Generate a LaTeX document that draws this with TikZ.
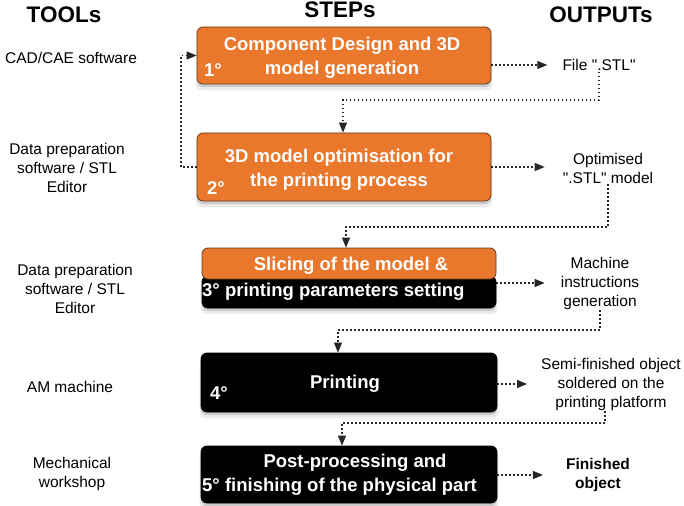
\documentclass[tikz,border=0pt]{standalone}
\usepackage{fontspec}
\setmainfont[Ligatures=TeXOff]{Liberation Sans}
\usetikzlibrary{arrows.meta,shadows}
\definecolor{amorange}{HTML}{E9772C}
\definecolor{amborder}{HTML}{6B3A18}
\begin{document}
\begin{tikzpicture}[x=1pt,y=-1pt,
  stepbox/.style={draw, rounded corners=6pt, line width=0.8pt, inner sep=0pt,
    drop shadow={shadow xshift=0pt, shadow yshift=-6pt, shadow scale=1.01, opacity=0.15},
    drop shadow={shadow xshift=0pt, shadow yshift=-3pt, opacity=0.3}},
  orangebox/.style={stepbox, fill=amorange, draw=amborder},
  blackbox/.style={stepbox, fill=black, draw=black},
  boxtext/.style={text=white, font=\fontsize{18.5}{24}\selectfont\bfseries, align=center, inner sep=0pt},
  numtext/.style={boxtext, anchor=west},
  sidetext/.style={font=\fontsize{15.5}{19}\selectfont, align=center, inner sep=1pt},
  headtext/.style={font=\fontsize{22.5}{26}\selectfont\bfseries, inner sep=0pt},
  flow/.style={line width=1.1pt, dash pattern=on 1.2pt off 2.8pt, black!85,
    -{Triangle[length=10pt,width=8pt]}}
]
\useasboundingbox (0,0) rectangle (684,505);

% headers
\node[headtext] (htools) at (64,15) {TOOLs};
\node[headtext] (hsteps) at (340,10) {STEPs};
\node[headtext] (hout) at (601,15) {OUTPUTs};

% step boxes
\node[orangebox, minimum width=294pt, minimum height=57pt] (box1) at (344,55.5) {};
\node[orangebox, minimum width=294pt, minimum height=68pt] (box2) at (344,167) {};
\node[blackbox, minimum width=294pt, minimum height=32pt] (box3) at (349,292) {};
\node[draw=amborder, fill=amorange, rounded corners=6pt, line width=0.8pt, inner sep=0pt,
  minimum width=294pt, minimum height=31pt] (box3top) at (349,263.5) {};
\node[blackbox, minimum width=296pt, minimum height=59pt] (box4) at (349,382.5) {};
\node[blackbox, minimum width=296pt, minimum height=57pt] (box5) at (349,474.5) {};

% step texts
\node[boxtext] (t1) at (342,57.5) {Component Design and 3D\\model generation};
\node[numtext] (n1) at (204,70) {1°};
\node[boxtext] (t2) at (339,170) {3D model optimisation for\\the printing process};
\node[numtext] (n2) at (207,188) {2°};
\node[boxtext] (t3a) at (351,266) {Slicing of the model \&};
\node[numtext] (t3b) at (202,292) {3° printing parameters setting};
\node[boxtext] (t4) at (345,384) {Printing};
\node[numtext] (n4) at (210,393) {4°};
\node[boxtext] (t5a) at (355,463) {Post-processing and};
\node[numtext] (t5b) at (202,487) {5° finishing of the physical part};

% tools
\node[sidetext] (cad) at (71,58) {CAD/CAE software};
\node[sidetext] (dp1) at (67,168) {Data preparation\\software / STL\\Editor};
\node[sidetext] (dp2) at (75,289) {Data preparation\\software / STL\\Editor};
\node[sidetext] (am) at (70,387) {AM machine};
\node[sidetext] (mech) at (72,474) {Mechanical\\workshop};

% outputs
\node[sidetext] (file) at (599,65) {File ".STL"};
\node[sidetext] (opt) at (608,168) {Optimised\\".STL" model};
\node[sidetext] (mach) at (600,283) {Machine\\instructions\\generation};
\node[sidetext] (semi) at (611,384) {Semi-finished object\\soldered on the\\printing platform};
\node[sidetext, font=\fontsize{15.5}{19}\selectfont\bfseries] (fin) at (598,475) {Finished\\object};

% junction coordinates
\coordinate (j1) at (343,100);
\coordinate (j2) at (346,227);
\coordinate (j3) at (338,330);
\coordinate (j4) at (342,423);
\coordinate (fb) at (181,0);

% connectors
\draw[flow, shorten >=14pt] (box1.east |- file.west) -- (file.west);
\draw[flow] (file.south) |- (j1) -- (j1 |- box2.north);
\draw[flow] (box2.west) -| (fb |- box1.west) -- (box1.west);
\draw[flow, shorten >=17pt] (box2.east) -- (box2.east -| opt.west);
\draw[flow] (opt.south) |- (j2) -- (j2 |- box3top.north);
\draw[flow, shorten >=15pt] (box3.east |- mach.west) -- (mach.west);
\draw[flow] (mach.south) |- (j3) -- (j3 |- box4.north);
\draw[flow, shorten >=13pt] (box4.east |- semi.west) -- (semi.west);
\draw[flow] ([xshift=-6pt]semi.south) |- (j4) -- (j4 |- box5.north);
\draw[flow, shorten >=22pt] (box5.east |- fin.west) -- (fin.west);
\end{tikzpicture}
\end{document}
